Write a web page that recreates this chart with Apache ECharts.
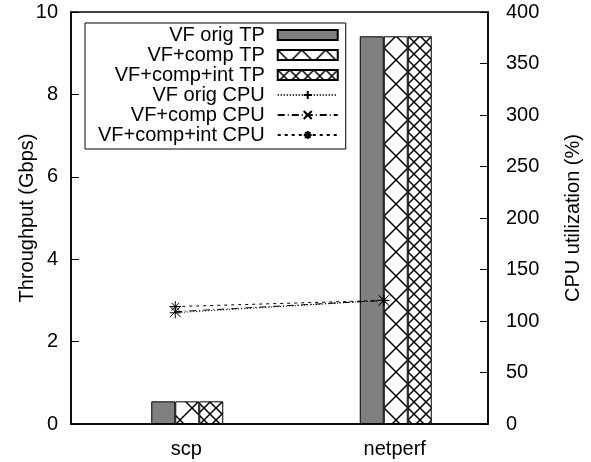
<!DOCTYPE html>
<html><head><meta charset="utf-8">
<script src="https://cdn.jsdelivr.net/npm/echarts@6/dist/echarts.min.js"></script>
<style>html,body{margin:0;padding:0;background:#fff}#c{width:591px;height:462px}</style>
</head><body><div id="c"></div>
<script>
const categories = ['scp', 'netperf'];
const tpOrig = [0.55, 9.41];
const tpComp = [0.55, 9.41];
const tpInt = [0.55, 9.41];
const cpuOrig = [108, 120];
const cpuComp = [109, 120];
const cpuInt = [114, 120];
const leftTicks = [0, 2, 4, 6, 8, 10];
const rightTicks = [0, 50, 100, 150, 200, 250, 300, 350, 400];

function hatch(size) {
  const c = document.createElement('canvas');
  c.width = c.height = size;
  const g = c.getContext('2d');
  g.fillStyle = '#fff'; g.fillRect(0, 0, size, size);
  g.strokeStyle = '#000'; g.lineWidth = 1.5;
  g.beginPath();
  g.moveTo(0, 0); g.lineTo(size, size);
  g.moveTo(size, 0); g.lineTo(0, size);
  g.stroke();
  return c;
}
const FONT = 'Liberation Sans';
const FS = 20;
const chart = echarts.init(document.getElementById('c'), null, {renderer: 'canvas'});
const barBase = {type: 'bar', barWidth: 24, barGap: '0%', yAxisIndex: 0};
const lineBase = {type: 'line', yAxisIndex: 1, symbolSize: 11, z: 5,
  itemStyle: {color: 'none', borderColor: '#000', borderWidth: 1}};
chart.setOption({
  animation: false,
  textStyle: {fontFamily: FONT},
  grid: {left: 71, right: 101, top: 12, bottom: 38, show: true, borderColor: '#000', borderWidth: 1.5},
  legend: {
    orient: 'vertical', align: 'right', left: 85, top: 23,
    itemWidth: 60, itemHeight: 10, itemGap: 0,
    padding: [2, 7, 4, 13],
    borderColor: '#000', borderWidth: 1,
    data: [
      {name: 'VF orig TP', icon: 'rect'},
      {name: 'VF+comp TP', icon: 'rect'},
      {name: 'VF+comp+int TP', icon: 'rect'},
      'VF orig CPU', 'VF+comp CPU', 'VF+comp+int CPU'],
    formatter: n => '{a|' + n + '}',
    textStyle: {rich: {a: {fontFamily: FONT, fontSize: FS, color: '#000', lineHeight: 19.5, padding: [0, 8, 0, 0]}}}
  },
  xAxis: {
    type: 'category', data: categories,
    axisLine: {lineStyle: {color: '#000', width: 1.5}},
    axisTick: {show: false},
    axisLabel: {fontSize: FS, color: '#000', margin: 15, padding: [0, 0, 0, 22]}
  },
  yAxis: [{
    type: 'value', min: 0, max: 10, interval: 2, position: 'left',
    name: 'Throughput (Gbps)', nameLocation: 'middle', nameGap: 34, nameRotate: 90, nameMoveOverlap: false,
    nameTextStyle: {fontSize: FS, color: '#000'},
    axisLine: {show: true, lineStyle: {color: '#000', width: 1.5}},
    axisTick: {show: true, inside: true, length: 8, lineStyle: {color: '#000'}},
    axisLabel: {fontSize: FS, color: '#000', margin: 13, formatter: v => leftTicks.includes(v) ? String(v) : ''},
    splitLine: {show: false}
  }, {
    type: 'value', min: 0, max: 400, interval: 50, position: 'right',
    name: 'CPU utilization (%)', nameLocation: 'middle', nameGap: 75, nameRotate: 90, nameMoveOverlap: false,
    nameTextStyle: {fontSize: FS, color: '#000'},
    axisLine: {show: true, lineStyle: {color: '#000', width: 1.5}},
    axisTick: {show: true, inside: true, length: 8, lineStyle: {color: '#000'}},
    axisLabel: {fontSize: FS, color: '#000', margin: 18, formatter: v => rightTicks.includes(v) ? String(v) : ''},
    splitLine: {show: false}
  }],
  series: [
    Object.assign({}, barBase, {name: 'gap', data: categories.map(() => '-'), itemStyle: {color: 'transparent'}}),
    Object.assign({}, barBase, {name: 'VF orig TP', data: tpOrig, itemStyle: {color: '#808080', borderColor: '#000', borderWidth: 1}}),
    Object.assign({}, barBase, {name: 'VF+comp TP', data: tpComp, itemStyle: {color: {image: hatch(24), repeat: 'repeat'}, borderColor: '#000', borderWidth: 1}}),
    Object.assign({}, barBase, {name: 'VF+comp+int TP', data: tpInt, itemStyle: {color: {image: hatch(12), repeat: 'repeat'}, borderColor: '#000', borderWidth: 1}}),
    Object.assign({}, lineBase, {name: 'VF orig CPU', data: cpuOrig, symbol: 'path://M0,5L10,5M5,0L5,10',
      lineStyle: {color: '#000', width: 1, type: [1, 2]}}),
    Object.assign({}, lineBase, {name: 'VF+comp CPU', data: cpuComp, symbol: 'path://M0,0L10,10M10,0L0,10',
      lineStyle: {color: '#000', width: 1, type: [7, 3, 1, 3]}}),
    Object.assign({}, lineBase, {name: 'VF+comp+int CPU', data: cpuInt, symbol: 'path://M0,5L10,5M5,0L5,10M1.5,1.5L8.5,8.5M8.5,1.5L1.5,8.5',
      lineStyle: {color: '#000', width: 1, type: [3, 4]}})
  ]
});
</script></body></html>
